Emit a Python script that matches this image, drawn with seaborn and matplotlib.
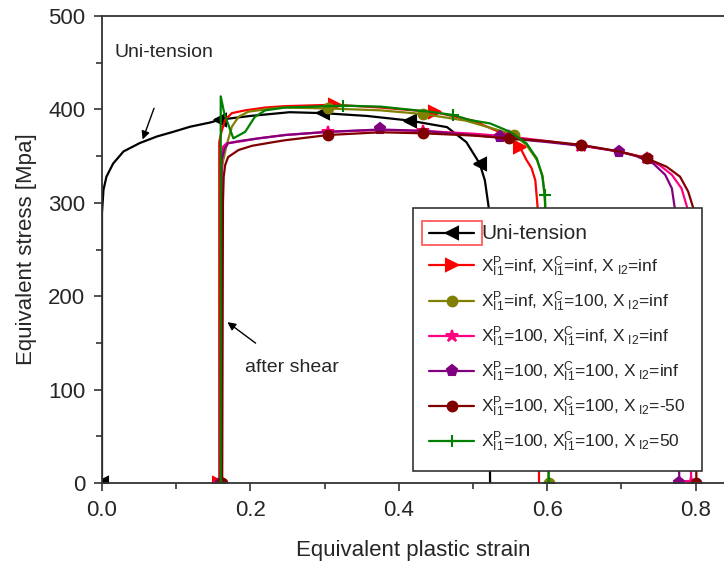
import numpy as np
import pandas as pd
import matplotlib
matplotlib.use("Agg")
import matplotlib.pyplot as plt
import seaborn as sns
from matplotlib.lines import Line2D
from matplotlib.patches import Rectangle

# ---------------- data ----------------
uni_x = [0.0, 0.0, 0.002, 0.006, 0.015, 0.029, 0.051, 0.074, 0.096, 0.119, 0.146, 0.159,
         0.2, 0.253, 0.298, 0.357, 0.415, 0.465, 0.491, 0.509, 0.516, 0.521, 0.523]
uni_y = [0, 289, 314, 328, 342, 355, 364, 371, 376, 381.5, 386, 389,
         393, 397, 396, 393, 388, 381, 365, 342, 324, 296, 0]
uni_mk = [0, 11, 14, 16, 19]

red_x = [0.158, 0.158, 0.161, 0.166, 0.175, 0.193, 0.22, 0.247, 0.314, 0.375, 0.449, 0.50,
         0.535, 0.55, 0.563, 0.572, 0.579, 0.584, 0.587, 0.589]
red_y = [0, 365, 376, 389, 396, 399, 402, 403.5, 405, 402, 397, 388,
         376, 369, 360, 346, 337, 324, 296, 0]
red_mk = [0, 8, 10, 14]

olive_x = [0.160, 0.161, 0.163, 0.168, 0.175, 0.184, 0.197, 0.229, 0.247, 0.305, 0.375, 0.433,
           0.49, 0.555, 0.572, 0.586, 0.594, 0.597, 0.600, 0.602]
olive_y = [0, 330, 344, 362, 381.5, 392, 397.5, 401, 402, 401, 399, 395,
           388, 373, 362, 346, 328, 300, 200, 0]
olive_mk = [0, 9, 11, 13, 19]

pink_x = [0.160, 0.161, 0.163, 0.168, 0.184, 0.211, 0.247, 0.305, 0.375, 0.433, 0.50, 0.548,
          0.60, 0.646, 0.697, 0.734, 0.752, 0.768, 0.781, 0.789, 0.792, 0.794]
pink_y = [0, 350, 360, 363.7, 365.4, 369, 372.6, 376, 378, 377, 374, 371,
          366, 361, 355, 348, 340, 330, 315.5, 294, 200, 0]
pink_mk = [0, 7, 9, 11, 13, 15, 21]

purple_x = [0.160, 0.161, 0.165, 0.170, 0.184, 0.211, 0.247, 0.305, 0.375, 0.433, 0.496, 0.536,
            0.60, 0.658, 0.697, 0.72, 0.743, 0.759, 0.768, 0.772, 0.776, 0.778]
purple_y = [0, 345, 358, 363.7, 366, 369, 372.6, 376, 378.5, 377, 372.6, 370,
            365, 360, 354.7, 350, 342, 330, 315.5, 294, 200, 0]
purple_mk = [0, 8, 11, 14, 21]

wine_x = [0.162, 0.163, 0.164, 0.166, 0.170, 0.184, 0.202, 0.229, 0.247, 0.305, 0.375, 0.433,
          0.50, 0.548, 0.60, 0.646, 0.697, 0.734, 0.761, 0.779, 0.790, 0.797, 0.800, 0.801]
wine_y = [0, 300, 328, 340.5, 349, 356.5, 361, 364.7, 367, 372.6, 375.5, 374.4,
          372, 369, 366, 362, 355, 347.6, 338.6, 328, 312, 294, 200, 0]
wine_mk = [0, 9, 11, 13, 15, 17, 23]

green_x = [0.160, 0.160, 0.165, 0.177, 0.193, 0.206, 0.22, 0.247, 0.325, 0.375, 0.442, 0.473,
           0.496, 0.523, 0.55, 0.572, 0.586, 0.593, 0.597, 0.599, 0.602]
green_y = [0, 414, 395, 369, 376, 392, 399, 402, 404, 403, 397.5, 394,
           388.6, 385, 376, 363.7, 347.6, 330, 308, 250, 0]
green_mk = [0, 8, 11, 18, 20]

X = r"$\mathrm{X}_{\mathrm{I1}}^{\mathrm{P}}$"
XC = r"$\mathrm{X}_{\mathrm{I1}}^{\mathrm{C}}$"
X2 = r"$\mathrm{X}_{\ \mathrm{I2}}$"
labels = ["Uni-tension",
          f"{X}=inf, {XC}=inf, {X2}=inf",
          f"{X}=inf, {XC}=100, {X2}=inf",
          f"{X}=100, {XC}=inf, {X2}=inf",
          f"{X}=100, {XC}=100, {X2}=inf",
          f"{X}=100, {XC}=100, {X2}=-50",
          f"{X}=100, {XC}=100, {X2}=50"]

x_ticks = [0.0, 0.2, 0.4, 0.6, 0.8]
y_ticks = [0, 100, 200, 300, 400, 500]

# ---------------- style ----------------
sns.set_style("ticks")
plt.rcParams["font.family"] = ["Liberation Sans", "DejaVu Sans"]
plt.rcParams["mathtext.fontset"] = "custom"
plt.rcParams["mathtext.rm"] = "Liberation Sans"
plt.rcParams["mathtext.it"] = "Liberation Sans:italic"
plt.rcParams["mathtext.bf"] = "Liberation Sans:bold"

fig = plt.figure(figsize=(7.24, 5.65), dpi=100)
ax = fig.add_axes([102 / 724, 82 / 565, 622 / 724, 467 / 565])

series = [
    (uni_x, uni_y, uni_mk, "black", "<", 8),
    (red_x, red_y, red_mk, "#FF0000", ">", 8),
    (olive_x, olive_y, olive_mk, "#808000", "o", 7),
    (pink_x, pink_y, pink_mk, "#FF0080", "*", 9),
    (purple_x, purple_y, purple_mk, "#800080", "p", 8),
    (wine_x, wine_y, wine_mk, "#800000", "o", 7),
    (green_x, green_y, green_mk, "#008000", "+", 9),
]

handles = []
for (xs, ys, mk, col, m, ms), lab in zip(series, labels):
    df = pd.DataFrame({"strain": xs, "stress": ys})
    sns.lineplot(data=df, x="strain", y="stress", ax=ax, sort=False, estimator=None,
                 color=col, lw=1.6, marker=m, markersize=ms, markevery=mk,
                 markeredgecolor=col, markerfacecolor=col, markeredgewidth=1.5,
                 clip_on=True, legend=False)
    handles.append(Line2D([], [], color=col, lw=1.6, marker=m, markersize=ms,
                          markeredgecolor=col, markerfacecolor=col, markeredgewidth=1.5))

ax.set_xlim(0, 622 / 742)
ax.set_ylim(0, 500)
ax.set_xticks(x_ticks)
ax.set_xticklabels([f"{v:.1f}" for v in x_ticks])
ax.set_yticks(y_ticks)
ax.set_xticks(np.arange(0.1, 0.85, 0.2), minor=True)
ax.set_yticks(np.arange(50, 500, 100), minor=True)
ax.tick_params(axis="both", which="major", direction="out", length=6, width=1.2,
               labelsize=16, color="#333333", pad=6)
ax.tick_params(axis="both", which="minor", direction="out", length=4, width=1.2,
               color="#333333")
ax.tick_params(top=False, right=False, which="both")
for s in ["left", "bottom", "top"]:
    ax.spines[s].set_color("#333333")
    ax.spines[s].set_linewidth(1.3)
ax.spines["right"].set_visible(False)
ax.set_xlabel("Equivalent plastic strain", fontsize=16, labelpad=14)
ax.set_ylabel("Equivalent stress [Mpa]", fontsize=16, labelpad=8)

# annotations
ax.text(0.0175, 461, "Uni-tension", fontsize=14, va="center", ha="left")
ax.annotate("", xy=(0.0535, 365), xytext=(0.0714, 404),
            arrowprops=dict(arrowstyle="-|>", color="black", lw=1, mutation_scale=12))
ax.text(0.193, 124, "after shear", fontsize=14, va="center", ha="left")
ax.annotate("", xy=(0.166, 174), xytext=(0.21, 148),
            arrowprops=dict(arrowstyle="-|>", color="black", lw=1, mutation_scale=12))

leg = ax.legend(handles, labels, loc="upper right", bbox_to_anchor=(0.965, 0.589),
                borderaxespad=0, fontsize=12.5, numpoints=1, handlelength=2.6,
                labelspacing=0.62, handletextpad=0.4, fancybox=False, framealpha=1,
                edgecolor="#333333", borderpad=0.95)
leg.get_frame().set_linewidth(1.2)
for t in leg.get_texts()[:1]:
    t.set_fontsize(15)

# red highlight box around the first legend handle
fig.canvas.draw()
r = fig.canvas.get_renderer()
bb = leg.legend_handles[0].get_window_extent(r)
cy = (bb.y0 + bb.y1) / 2
x0, x1 = bb.x0 - 2, bb.x1 + 2
inv = fig.transFigure.inverted()
(fx0, fy0), (fx1, fy1) = inv.transform([(x0, cy - 12), (x1, cy + 12)])
fig.add_artist(Rectangle((fx0, fy0), fx1 - fx0, fy1 - fy0, transform=fig.transFigure,
                         fill=False, edgecolor="#FF5050", lw=1.2, zorder=10))

fig.savefig("out.png", dpi=100)
